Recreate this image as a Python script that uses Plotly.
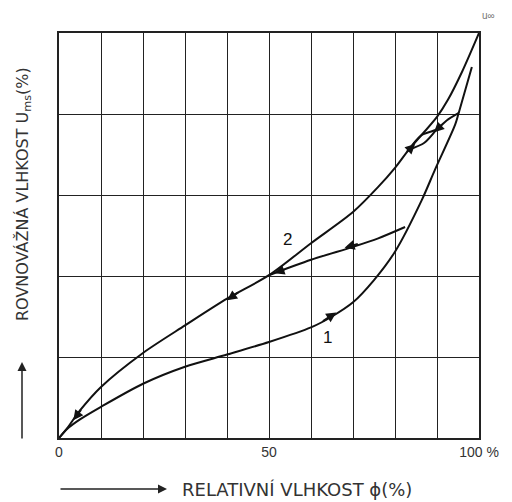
import plotly.graph_objects as go

# Desorption curve (2) - upper branch
upper_x = [0, 2, 5, 10, 20, 30, 40, 50, 60, 70, 76, 80, 83.3, 90, 92.6, 96, 100]
upper_y = [0, 2.5, 6.8, 12.6, 21, 27.8, 34.4, 40.2, 48.1, 55.8, 62.0, 66.7, 71.2, 79.3, 83.5, 90.5, 100]

# Adsorption curve (1) - lower branch
lower_x = [0, 2, 5, 10, 20, 30, 40, 50, 60, 65, 70, 75, 80, 86.4, 89.5, 94.3, 95.1, 98.3]
lower_y = [0, 2.3, 4.6, 7.7, 13.4, 17.6, 20.6, 23.7, 27.3, 30, 33.5, 39, 46, 58.8, 66.2, 77.3, 80, 91.6]

# Desorption scanning curve from the adsorption branch to the desorption branch
scan_x = [82.4, 76, 70, 60, 50]
scan_y = [52.1, 49.3, 47.2, 44.0, 40.2]

# Small scanning loop near the top
loopA_x = [83.3, 86.2, 89.9, 92.3, 95.1]
loopA_y = [71.2, 74.7, 76.2, 78.4, 80.2]
loopB_x = [83.3, 87.0, 89.9]
loopB_y = [71.2, 72.9, 76.2]

x_tickvals = [0, 50, 100]
x_ticktext = ["0", "50", "100 %"]

# page body has an 8px margin; work in reference pixel coordinates and shift
OFF = 8
W, H = 512 - OFF, 502 - OFF
L, T = 59 - OFF, 33 - OFF
PW, PH = 420, 405
R, B = W - L - PW, H - T - PH

def px2paper(px, py):
    return (px - OFF - L) / PW, (T + PH - (py - OFF)) / PH

fig = go.Figure()
for xs, ys in [(upper_x, upper_y), (lower_x, lower_y), (scan_x, scan_y),
               (loopA_x, loopA_y), (loopB_x, loopB_y)]:
    fig.add_trace(go.Scatter(x=xs, y=ys, mode="lines",
                             line=dict(color="#111", width=2, shape="spline", smoothing=0.8),
                             hoverinfo="skip", showlegend=False))

# direction arrows along curves (tail -> head in data coords)
arrows = [
    ((62.5, 28.6), (66.0, 31.0)),   # on curve 1, upwards
    ((71.5, 48.0), (68.0, 47.0)),   # on scanning curve, leftwards
    ((54.0, 41.7), (51.3, 40.7)),   # at junction, down-left
    ((43.0, 36.2), (40.0, 34.0)),   # on curve 2 down-left
    ((5.5, 7.3), (3.4, 4.4)),       # near origin
    ((82.5, 70.3), (84.8, 72.6)),   # loop left tip, up-right
    ((91.5, 77.7), (89.3, 75.5)),   # loop right tip, down-left
]
for (tx, ty), (hx, hy) in arrows:
    fig.add_annotation(x=hx, y=hy, ax=tx, ay=ty, xref="x", yref="y", axref="x", ayref="y",
                       text="", showarrow=True, arrowhead=2, arrowsize=1.0, arrowwidth=2,
                       arrowcolor="#111", standoff=0)

# curve labels
fig.add_annotation(x=54.3, y=48.9, text="2", showarrow=False, xanchor="center", yanchor="middle",
                   font=dict(size=17, color="#111"))
fig.add_annotation(x=64.0, y=24.7, text="1", showarrow=False, xanchor="center", yanchor="middle",
                   font=dict(size=17, color="#111"))

# u-infinity label
ux, uy = px2paper(489, 16)
fig.add_annotation(x=ux, y=uy, xref="paper", yref="paper", text="u∞", showarrow=False,
                   xanchor="center", yanchor="middle", font=dict(size=10, color="#777"))

title_font = "DejaVu Sans, Liberation Sans, sans-serif"

# x axis title with arrow
tx, ty = px2paper(297, 489)
fig.add_annotation(x=tx, y=ty, xref="paper", yref="paper", text="RELATIVNÍ VLHKOST ϕ(%)",
                   showarrow=False, xanchor="center", yanchor="middle",
                   font=dict(size=18, color="#333", family=title_font))
hx, hy = px2paper(167, 489)
fig.add_annotation(x=hx, y=hy, xref="paper", yref="paper", ax=-108, ay=0, text="",
                   showarrow=True, arrowhead=2, arrowsize=1.2, arrowwidth=1.5, arrowcolor="#222", standoff=0)

# y axis title with arrow
tx, ty = px2paper(24, 194)
fig.add_annotation(x=tx, y=ty, xref="paper", yref="paper",
                   text="ROVNOVÁŽNÁ VLHKOST U<sub>ms</sub>(%)", textangle=-90,
                   showarrow=False, xanchor="center", yanchor="middle",
                   font=dict(size=16, color="#333", family=title_font))
hx, hy = px2paper(22, 362)
fig.add_annotation(x=hx, y=hy, xref="paper", yref="paper", ax=0, ay=78, text="",
                   showarrow=True, arrowhead=2, arrowsize=1.2, arrowwidth=1.5, arrowcolor="#222", standoff=0)

fig.update_layout(
    width=W, height=H,
    margin=dict(l=L, r=R, t=T, b=B),
    paper_bgcolor="white", plot_bgcolor="white",
    font=dict(family="Liberation Sans, Arial, sans-serif", color="#222"),
    xaxis=dict(range=[0, 100], tickvals=x_tickvals, ticktext=x_ticktext, showgrid=True,
               gridcolor="#222", gridwidth=1.3, zeroline=False, showline=True, linecolor="#222",
               linewidth=1.5, mirror=True, ticks="", tickfont=dict(size=14, color="#333"),
               minor=dict(dtick=10, showgrid=True, gridcolor="#222", gridwidth=1.3)),
    yaxis=dict(range=[0, 100], dtick=20, showgrid=True, gridcolor="#222", gridwidth=1.3,
               zeroline=False, showline=True, linecolor="#222", linewidth=1.5, mirror=True,
               showticklabels=False, ticks=""),
)

fig.write_html("out.html")
